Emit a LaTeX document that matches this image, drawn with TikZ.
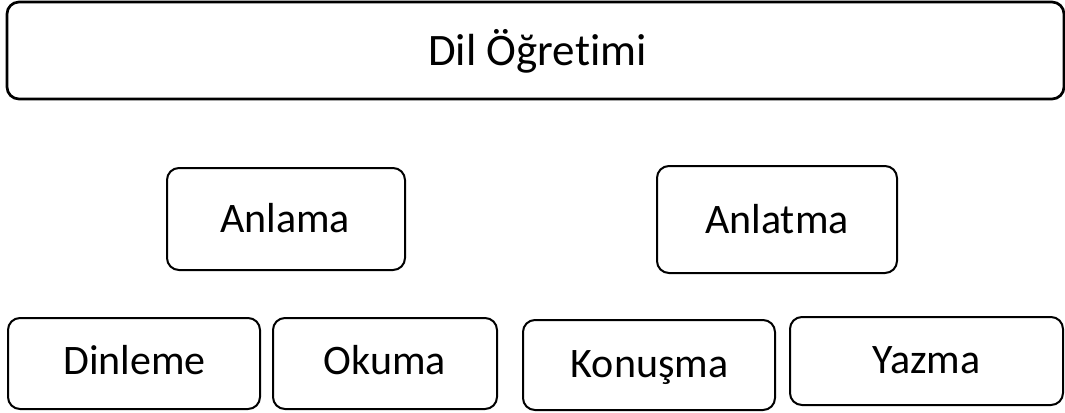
\documentclass[tikz,border=0pt]{standalone}
\usepackage{fontspec}
\setmainfont{Carlito}[Ligatures=NoCommon]
\begin{document}
\begin{tikzpicture}[x=0.75pt,y=-0.75pt,
  box/.style={draw=black, line width=1.5pt, rounded corners=9pt, fill=white, inner sep=0pt},
  lbl/.style={anchor=base, inner sep=0pt, font=\fontsize{31.5}{36}\selectfont}]
\useasboundingbox (0,0) rectangle (1065,412);
\node[box, line width=2pt, minimum width=792.75pt, minimum height=72.75pt] (top) at (535.5,50.5) {};
\node[lbl, font=\fontsize{33.75}{40}\selectfont] (toptext) at (537.5,65) {Dil Öğretimi};
\node[box, minimum width=178.5pt, minimum height=76.5pt] (anlama) at (286,219) {};
\node[lbl] (anlamatext) at (285,232) {Anlama};
\node[box, minimum width=180pt, minimum height=80.25pt] (anlatma) at (777,219.5) {};
\node[lbl] (anlatmatext) at (777,233) {Anlatma};
\node[box, minimum width=189pt, minimum height=68.25pt] (dinleme) at (134,363.5) {};
\node[lbl] (dinlemetext) at (134.5,374) {Dinleme};
\node[box, minimum width=168pt, minimum height=68.25pt] (okuma) at (385,363.5) {};
\node[lbl] (okumatext) at (385,374) {Okuma};
\node[box, minimum width=189pt, minimum height=67.5pt] (konusma) at (649,365) {};
\node[lbl] (konusmatext) at (649.5,377) {Konuşma};
\node[box, minimum width=204.75pt, minimum height=66pt] (yazma) at (926.5,361) {};
\node[lbl] (yazmatext) at (926.5,373) {Yazma};
\end{tikzpicture}
\end{document}
